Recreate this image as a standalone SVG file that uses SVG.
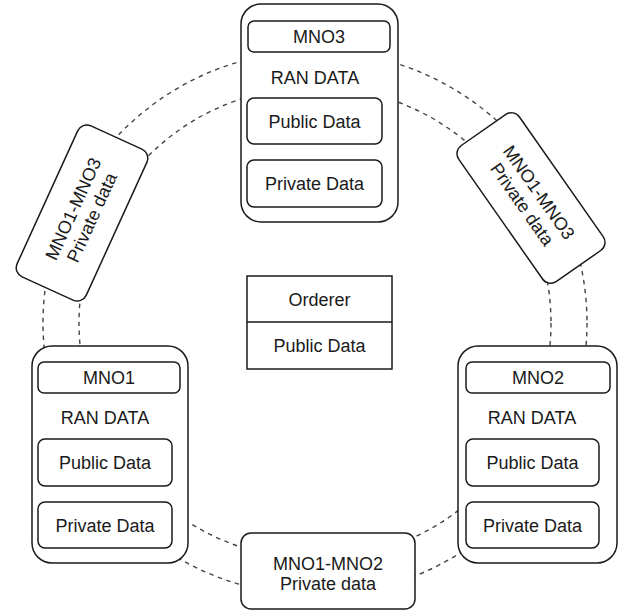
<svg xmlns="http://www.w3.org/2000/svg" width="621" height="614" viewBox="0 0 621 614">
  <style>
    .box { fill: #ffffff; stroke: #1a1a1a; stroke-width: 1.5; }
    .ring { fill: none; stroke: #444444; stroke-width: 1.4; stroke-dasharray: 4.5 4.5; }
    .t { font-family: "Liberation Sans", Arial, Helvetica, sans-serif; font-size: 18px; fill: #1a1a1a; text-anchor: middle; }
  </style>
  <rect x="0" y="0" width="621" height="614" fill="#ffffff"/>

  <!-- Dashed ring links between the peers (drawn under the nodes) -->
  <g id="connectors">
    <circle class="ring" cx="315" cy="323" r="272"/>
    <circle class="ring" cx="315" cy="323" r="236"/>
  </g>

  <!-- Central ordering service -->
  <g id="orderer">
    <rect class="box" x="247" y="276" width="145" height="93"/>
    <line x1="247" y1="322" x2="392" y2="322" stroke="#1a1a1a" stroke-width="1.5"/>
    <text class="t" x="319.5" y="305.5">Orderer</text>
    <text class="t" x="319.5" y="352">Public Data</text>
  </g>

  <!-- MNO3 peer -->
  <g id="mno3">
    <rect class="box" x="241" y="4" width="157" height="218" rx="20"/>
    <rect class="box" x="248" y="21" width="142" height="31" rx="6"/>
    <text class="t" x="319" y="43">MNO3</text>
    <text class="t" x="315" y="83.5">RAN DATA</text>
    <rect class="box" x="247" y="98" width="135" height="46" rx="7"/>
    <text class="t" x="314.5" y="127.5">Public Data</text>
    <rect class="box" x="247" y="160" width="135" height="47" rx="7"/>
    <text class="t" x="314.5" y="190">Private Data</text>
  </g>

  <!-- MNO1 peer -->
  <g id="mno1">
    <rect class="box" x="32" y="346" width="156" height="217" rx="20"/>
    <rect class="box" x="38" y="362" width="142" height="31" rx="6"/>
    <text class="t" x="109" y="384">MNO1</text>
    <text class="t" x="105" y="423.5">RAN DATA</text>
    <rect class="box" x="38" y="439" width="134" height="47" rx="7"/>
    <text class="t" x="105" y="469">Public Data</text>
    <rect class="box" x="38" y="502" width="134" height="46" rx="7"/>
    <text class="t" x="105" y="531.5">Private Data</text>
  </g>

  <!-- MNO2 peer -->
  <g id="mno2">
    <rect class="box" x="458" y="346" width="159" height="217" rx="20"/>
    <rect class="box" x="466" y="362" width="144" height="31" rx="6"/>
    <text class="t" x="538" y="384">MNO2</text>
    <text class="t" x="532" y="423.5">RAN DATA</text>
    <rect class="box" x="466" y="439" width="133" height="47" rx="7"/>
    <text class="t" x="532.5" y="469">Public Data</text>
    <rect class="box" x="466" y="502" width="133" height="46" rx="7"/>
    <text class="t" x="532.5" y="531.5">Private Data</text>
  </g>

  <!-- Private channel MNO1-MNO2 -->
  <g id="mno1-mno2">
    <rect class="box" x="241" y="533" width="174" height="76" rx="10"/>
    <text class="t" x="328" y="569.5">MNO1-MNO2</text>
    <text class="t" x="328" y="590">Private data</text>
  </g>

  <!-- Private channel MNO1-MNO3 (left) -->
  <g id="mno1-mno3-left" transform="translate(82 213) rotate(-65.5)">
    <rect class="box" x="-83" y="-38" width="166" height="76" rx="10"/>
    <text class="t" x="0" y="-3.5">MNO1-MNO3</text>
    <text class="t" x="0" y="17">Private data</text>
  </g>

  <!-- Private channel MNO1-MNO3 (right) -->
  <g id="mno1-mno3-right" transform="translate(531 198) rotate(55)">
    <rect class="box" x="-83" y="-37" width="166" height="74" rx="10"/>
    <text class="t" x="0" y="-3.5">MNO1-MNO3</text>
    <text class="t" x="0" y="17">Private data</text>
  </g>
</svg>
